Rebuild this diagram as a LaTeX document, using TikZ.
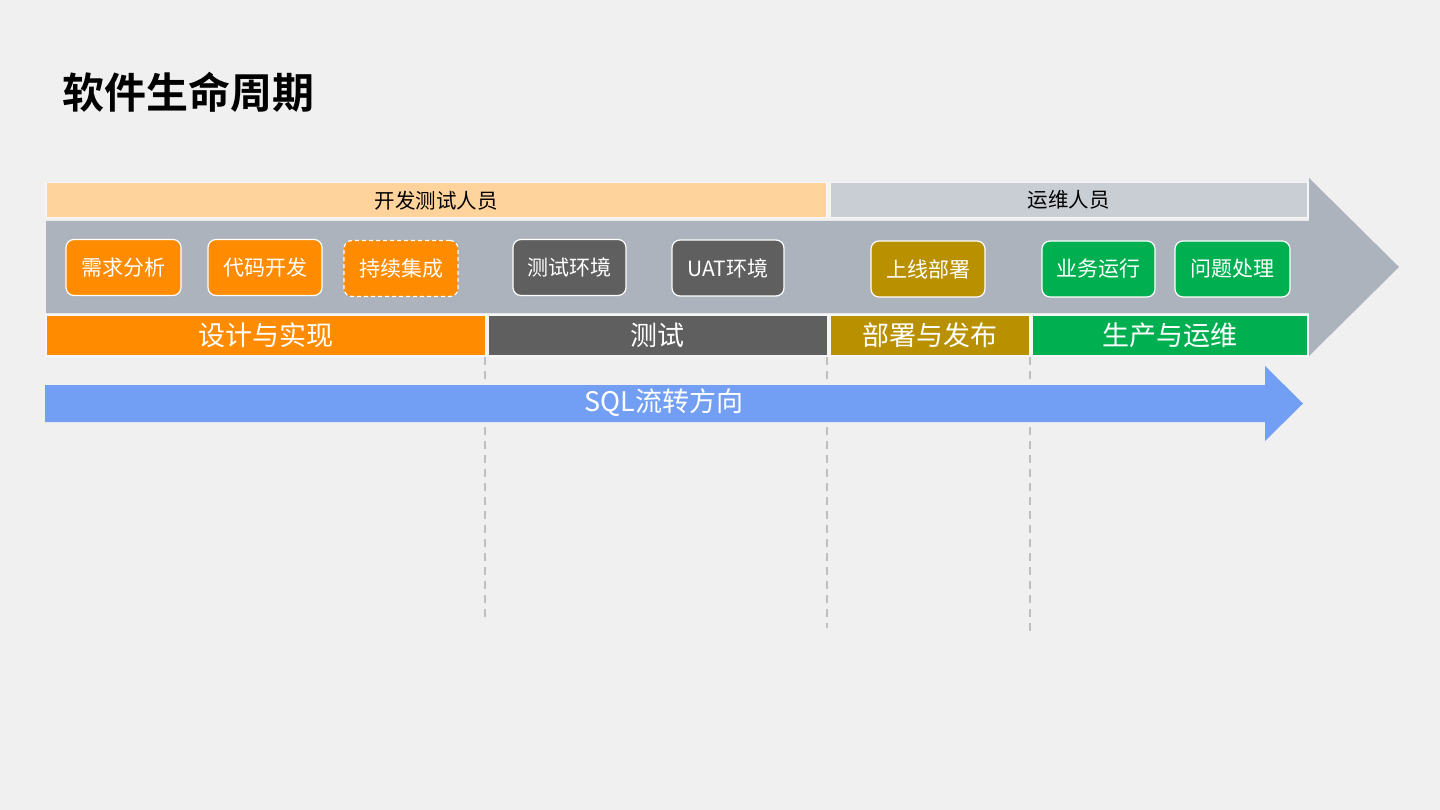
\documentclass[tikz,border=0pt]{standalone}
\usepackage{fontspec}
\setmainfont{Noto Sans CJK SC}[BoldFont={Noto Sans CJK SC Bold}]
\definecolor{bgc}{HTML}{F0F0F0}
\definecolor{arrgray}{HTML}{ADB3BC}
\definecolor{devbarc}{HTML}{FFD39B}
\definecolor{opsbarc}{HTML}{C9CED5}
\definecolor{orangec}{HTML}{FF8C00}
\definecolor{darkgrayc}{HTML}{5F5F5F}
\definecolor{goldc}{HTML}{B89000}
\definecolor{greenc}{HTML}{00B050}
\definecolor{bluec}{HTML}{729FF4}
\definecolor{dashc}{HTML}{BFBFBF}
\definecolor{edgec}{HTML}{F6F6F6}
\begin{document}
\begin{tikzpicture}[x=1pt,y=-1pt,
  topbar/.style={draw=edgec,line width=1.5pt,inner sep=0pt,minimum height=35pt,anchor=north west,
    font=\fontsize{20.5}{24}\selectfont,text=black},
  phasebar/.style={draw=edgec,line width=1.5pt,inner sep=0pt,minimum height=41pt,anchor=north west,
    font=\fontsize{27}{32}\selectfont,text=white},
  taskbox/.style={draw=white,line width=1.2pt,rounded corners=8pt,inner sep=0pt,
    minimum width=113pt,minimum height=56pt,font=\fontsize{21}{25}\selectfont,text=white},
  dashline/.style={draw=dashc,line width=2pt,dash pattern=on 8pt off 6pt}
]
\fill[bgc] (0,0) rectangle (1440,810);
\useasboundingbox (0,0) rectangle (1440,810);

% title
\node[anchor=west,inner sep=0pt,font=\fontsize{42}{50}\selectfont\bfseries] (title) at (62,92) {软件生命周期};

% big gray arrow
\fill[arrgray] (46,221) -- (1309,221) -- (1309,178) -- (1399,267) -- (1309,356) -- (1309,313) -- (46,313) -- cycle;

% top role bars
\node[topbar,fill=devbarc,minimum width=781pt] (devbar) at (45,182) {开发测试人员};
\node[topbar,fill=opsbarc,minimum width=478pt] (opsbar) at (829,182) {运维人员};

% task boxes
\node[taskbox,fill=orangec,minimum width=115pt] (req) at (123.5,267.5) {需求分析};
\node[taskbox,fill=orangec,minimum width=114pt] (code) at (265,267.5) {代码开发};
\node[taskbox,fill=orangec,minimum width=114pt,dashed,dash pattern=on 4pt off 3pt] (ci) at (401,268.5) {持续集成};
\node[taskbox,fill=darkgrayc] (testenv) at (569.5,267.5) {测试环境};
\node[taskbox,fill=darkgrayc,minimum width=112pt] (uat) at (728,268) {UAT环境};
\node[taskbox,fill=goldc,minimum width=114pt] (deploy) at (928,269) {上线部署};
\node[taskbox,fill=greenc] (run) at (1098.5,269) {业务运行};
\node[taskbox,fill=greenc,minimum width=115pt] (issue) at (1232.5,269) {问题处理};

% phase bars
\node[phasebar,fill=orangec,minimum width=440pt] (design) at (45,314) {设计与实现};
\node[phasebar,fill=darkgrayc,minimum width=340pt] (testing) at (487,314) {测试};
\node[phasebar,fill=goldc,minimum width=200pt] (release) at (829,314) {部署与发布};
\node[phasebar,fill=greenc,minimum width=276pt] (prod) at (1031,314) {生产与运维};

% dashed separators
\coordinate (d1) at (485,620);
\coordinate (d2) at (826.5,628);
\coordinate (d3) at (1030,632);
\draw[dashline] (485,357) -- (d1);
\draw[dashline] (826.5,357) -- (d2);
\draw[dashline] (1030,357) -- (d3);

% blue SQL flow arrow
\fill[bluec] (45,385) -- (1265,385) -- (1265,366) -- (1303,403.5) -- (1265,441) -- (1265,422) -- (45,422) -- cycle;
\node[inner sep=0pt,text=white,font=\fontsize{27}{31}\selectfont] (sql) at (664,403) {SQL流转方向};
\end{tikzpicture}
\end{document}
